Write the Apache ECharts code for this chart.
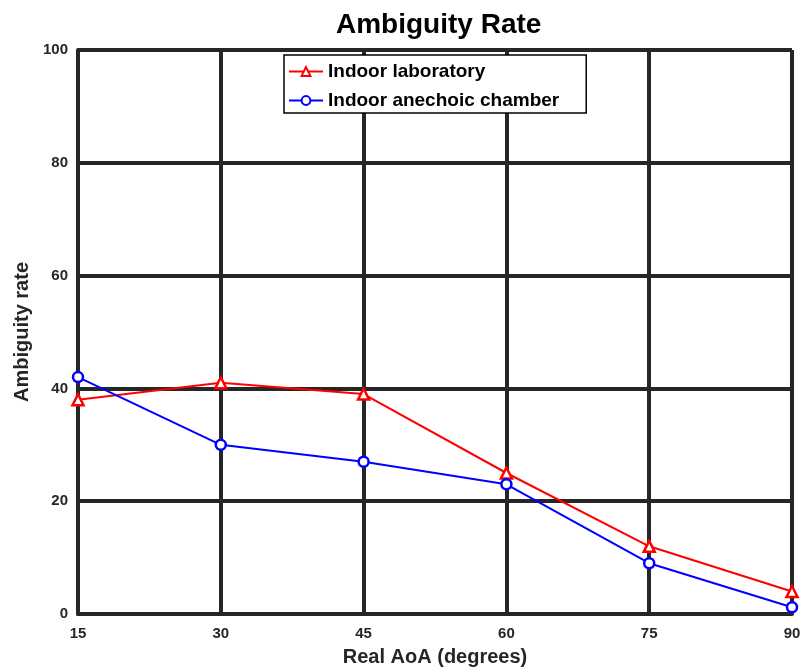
<!DOCTYPE html>
<html>
<head>
<meta charset="utf-8">
<script src="https://cdn.jsdelivr.net/npm/echarts@6/dist/echarts.min.js"></script>
<style>
html, body { margin: 0; padding: 0; background: #fff; }
#chart { width: 802px; height: 670px; }
</style>
</head>
<body>
<div id="chart"></div>
<script>
var aoa = [15, 30, 45, 60, 75, 90];
var labRate = [38, 41, 39, 25, 12, 4];
var chamberRate = [42, 30, 27, 23, 9, 1.2];
var seriesNames = ['Indoor laboratory', 'Indoor anechoic chamber'];

function pairs(xs, ys) {
	var out = [];
	for (var i = 0; i < xs.length; i++) {
		out.push([xs[i], ys[i]]);
	}
	return out;
}

var gridLine = { show: true, lineStyle: { color: '#262626', width: 4 } };
var tickFont = { fontFamily: 'Liberation Sans', fontWeight: 'bold', fontSize: 15, color: '#262626' };
var nameFont = { fontFamily: 'Liberation Sans', fontWeight: 'bold', fontSize: 20, color: '#262626' };
var chart = echarts.init(document.getElementById('chart'));
chart.setOption({
	animation: false,
	title: {
		text: 'Ambiguity Rate',
		left: 331,
		top: 6,
		textStyle: { fontFamily: 'Liberation Sans', fontWeight: 'bold', fontSize: 28, color: '#000' }
	},
	legend: {
		orient: 'vertical',
		left: 284,
		top: 55,
		padding: [7, 27, 3, 4],
		itemGap: 10,
		itemWidth: 34,
		itemHeight: 11,
		borderColor: '#000',
		borderWidth: 1.5,
		borderRadius: 0,
		backgroundColor: '#fff',
		textStyle: { fontFamily: 'Liberation Sans', fontWeight: 'bold', fontSize: 19, color: '#000' },
		data: seriesNames
	},
	grid: { left: 78, right: 10, top: 50, bottom: 56, outerBoundsMode: 'none', containLabel: false },
	xAxis: {
		type: 'value',
		min: 15,
		max: 90,
		interval: 15,
		name: 'Real AoA (degrees)',
		nameLocation: 'middle',
		nameGap: 33,
		nameTextStyle: nameFont,
		axisLine: { show: true, lineStyle: { color: '#262626', width: 4 } },
		axisTick: { show: false },
		axisLabel: Object.assign({ margin: 12 }, tickFont),
		splitLine: gridLine
	},
	yAxis: {
		type: 'value',
		min: 0,
		max: 100,
		interval: 20,
		name: 'Ambiguity rate',
		nameLocation: 'middle',
		nameGap: 46,
		nameTextStyle: nameFont,
		axisLine: { show: true, lineStyle: { color: '#262626', width: 4 } },
		axisTick: { show: false },
		axisLabel: Object.assign({ margin: 10 }, tickFont),
		splitLine: gridLine
	},
	series: [{
		name: seriesNames[0],
		type: 'line',
		data: pairs(aoa, labRate),
		symbol: 'triangle',
		symbolSize: 11,
		itemStyle: { color: '#fff', borderColor: '#ff0000', borderWidth: 2.5 },
		lineStyle: { color: '#ff0000', width: 2 }
	}, {
		name: seriesNames[1],
		type: 'line',
		data: pairs(aoa, chamberRate),
		symbol: 'circle',
		symbolSize: 10,
		itemStyle: { color: '#fff', borderColor: '#0000ff', borderWidth: 2.5 },
		lineStyle: { color: '#0000ff', width: 2 }
	}]
});
</script>
</body>
</html>
